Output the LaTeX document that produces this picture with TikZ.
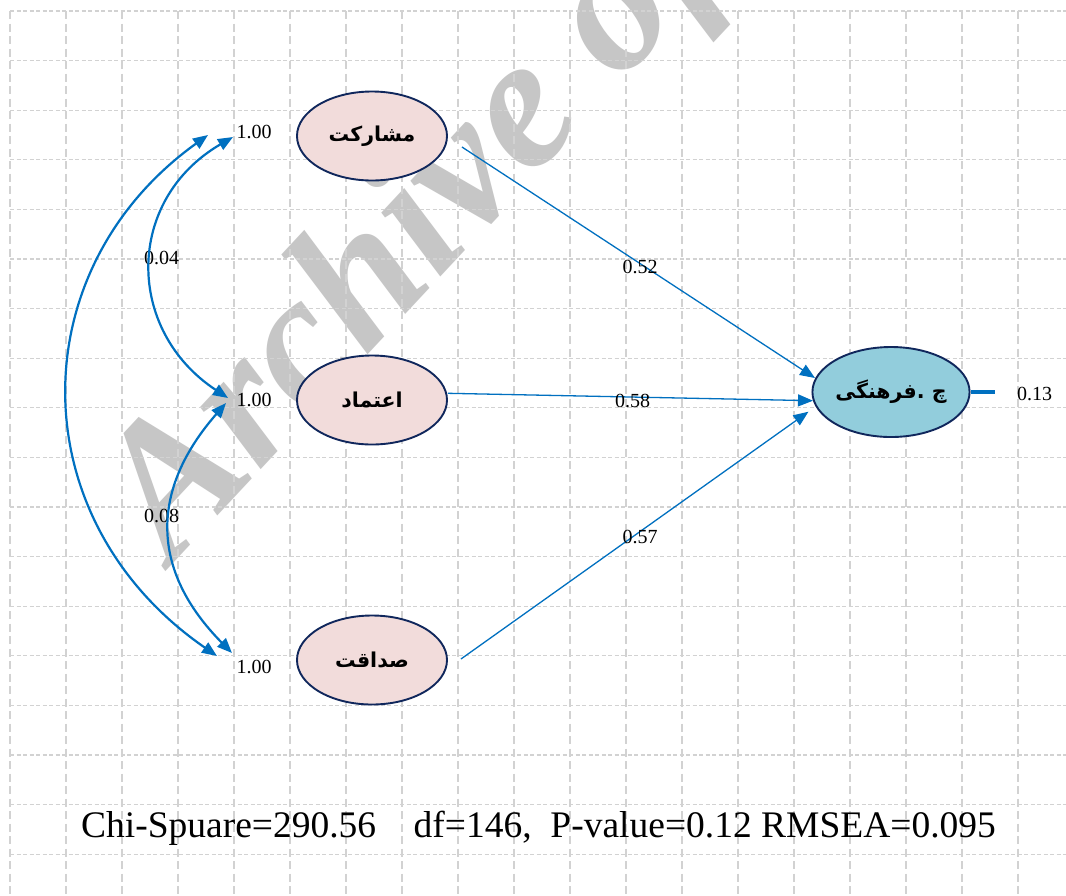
\documentclass[tikz,border=0pt]{standalone}
\usepackage{fontspec}
\setmainfont{Liberation Serif}
\newfontfamily\arabicfont[Script=Arabic]{DejaVu Sans}
\TeXXeTstate=1
\usetikzlibrary{shapes.geometric,arrows.meta}
\definecolor{pinkfill}{HTML}{F2DCDB}
\definecolor{aquafill}{HTML}{92CDDC}
\definecolor{navy}{HTML}{10275C}
\definecolor{arrowblue}{HTML}{0070C0}
\definecolor{gridgray}{HTML}{D2D2D2}
\definecolor{wmgray}{HTML}{C6C6C6}
\begin{document}
\begin{tikzpicture}[x=1pt,y=-1pt,
  hgrid/.style={gridgray, line width=1.2pt, dash pattern=on 4pt off 2.5pt},
  vgrid/.style={gridgray, line width=1.2pt, dash pattern=on 8pt off 4.5pt},
  latent/.style={ellipse, draw=navy, line width=1.9pt, minimum width=150pt,
    minimum height=89pt, inner sep=0pt,
    font=\arabicfont\bfseries\fontsize{20.5}{24}\selectfont},
  lab/.style={inner sep=0pt, font=\fontsize{20}{24}\selectfont},
  reg/.style={arrowblue, line width=1.3pt, -{Triangle[length=15pt,width=12pt]}},
  cov/.style={arrowblue, line width=2.2pt,
    {Triangle[length=15pt,width=12pt]}-{Triangle[length=15pt,width=12pt]}},
  err/.style={arrowblue, line width=4pt}
]
\path[use as bounding box] (0,0) rectangle (1066,895);
\clip (0,0) rectangle (1066,895);
\fill[white] (0,0) rectangle (1066,895);

% watermark
\node[wmgray, rotate=47, anchor=base west, inner sep=0pt,
  font=\fontsize{189}{189}\selectfont\bfseries\itshape] (wm) at (172,565) {Archive of SID};

% grid
\foreach \k in {0,...,17} \draw[hgrid] (10,{11+49.6*\k}) -- (1066,{11+49.6*\k});
\foreach \k in {0,...,18} \draw[vgrid] ({10+56*\k},11) -- ({10+56*\k},895);

% latent variables
\node[latent, fill=pinkfill] (m) at (372,136) {\beginR مشارکت\endR};
\node[latent, fill=pinkfill] (e) at (372,400) {\beginR اعتماد\endR};
\node[latent, fill=pinkfill] (s) at (372,660) {\beginR صداقت\endR};
\node[latent, fill=aquafill, minimum width=149pt, minimum height=90pt] (c) at (891,392) {\beginR چ .فرهنگی\endR};

% variance labels
\node[lab] (v1) at (254,132) {1.00};
\node[lab] (v2) at (254,400) {1.00};
\node[lab] (v3) at (254,666.5) {1.00};
\node[lab] (k1) at (161.5,257.5) {0.04};
\node[lab] (k2) at (161.5,515.8) {0.08};

% regression paths
\draw[reg] ([shift={(14,11)}]m.east) -- ([shift={(3.5,-14)}]c.west);
\draw[reg] ([shift={(0,-6.7)}]e.east) -- ([shift={(1.5,8.7)}]c.west);
\draw[reg] ([shift={(13,-1)}]s.east) -- ([shift={(-3,19.7)}]c.west);
\node[lab] (p1) at (640,266.7) {0.52};
\node[lab] (p2) at (632.7,400.7) {0.58};
\node[lab] (p3) at (640,536.7) {0.57};

% error
\coordinate (eend) at (995,392);
\draw[err] (c.east) -- (eend);
\node[lab] (r2) at (1034.5,394) {0.13};

% covariance curves
\coordinate (t1o) at (208,135);
\coordinate (t1i) at (233,137);
\coordinate (t2a) at (228,398);
\coordinate (t2b) at (226,403);
\coordinate (t3i) at (232,653);
\coordinate (t3o) at (217,656);
\draw[cov] (t1i) .. controls (125,200) and (125,330) .. (t2a);
\draw[cov] (t2b) .. controls (150,490) and (150,570) .. (t3i);
\draw[cov] (t1o) .. controls (20,270) and (20,520) .. (t3o);

% fit statistics
\node[inner sep=0pt, anchor=base, font=\fontsize{37.5}{40}\selectfont] (fit) at (538.5,837)
  {Chi-Spuare=290.56\ \ \ \ df=146,\ \ P-value=0.12 RMSEA=0.095};
\end{tikzpicture}
\end{document}
